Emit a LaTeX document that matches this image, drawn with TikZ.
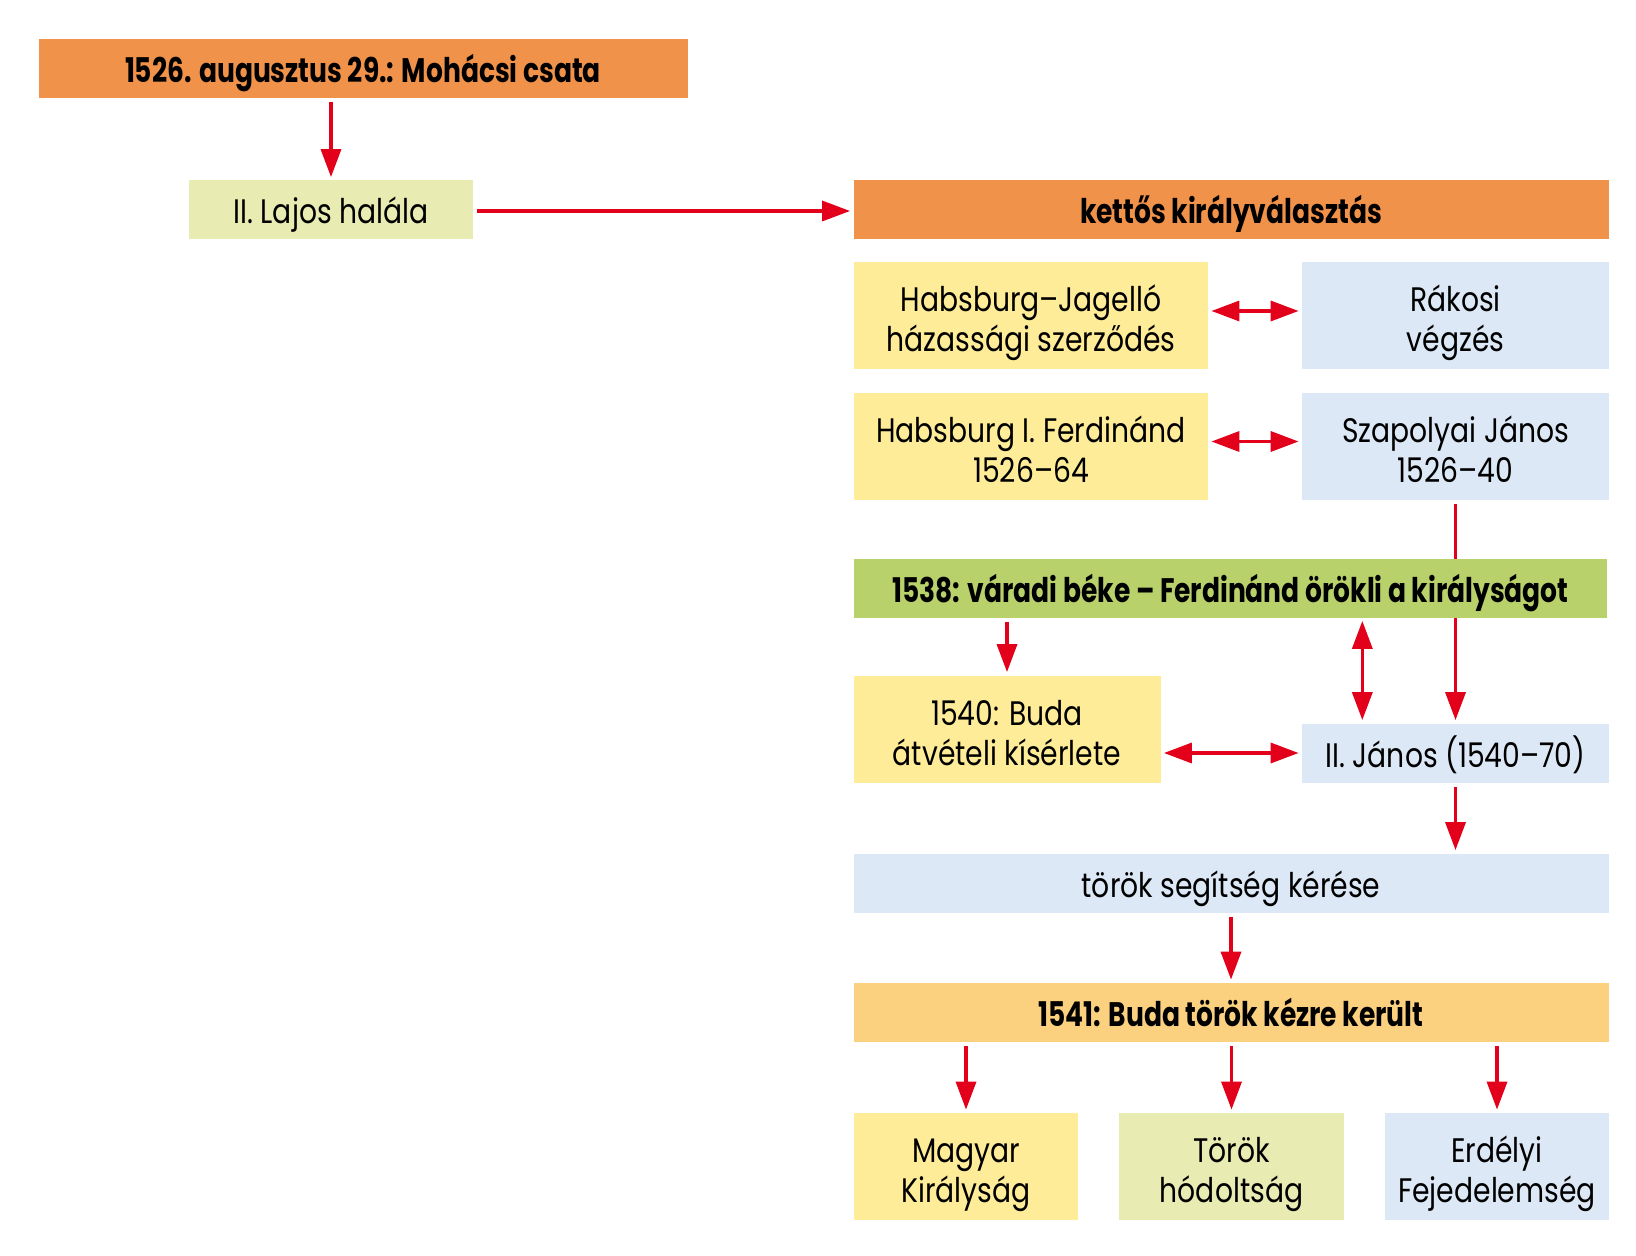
\documentclass[tikz,border=0pt]{standalone}
\usepackage{fontspec}
\setmainfont{Poppins}[FakeStretch=0.83, BoldFeatures={FakeStretch=0.78}]
\usetikzlibrary{arrows.meta,backgrounds}

\definecolor{narancs}{RGB}{240,146,73}
\definecolor{vilnarancs}{RGB}{251,209,127}
\definecolor{sarga}{RGB}{254,236,152}
\definecolor{halvzold}{RGB}{232,235,178}
\definecolor{kek}{RGB}{220,232,245}
\definecolor{zold}{RGB}{185,209,106}
\definecolor{piros}{RGB}{226,0,26}

\tikzset{
    doboz/.style={rectangle, inner sep=0pt, align=center, minimum height=29.5pt, text height=16pt, text depth=2pt, font=\fontsize{17}{20}\selectfont},
    magas/.style={minimum height=53.5pt, text height=38pt, text depth=2pt},
    fej/.style={font=\fontsize{17}{20}\selectfont\bfseries},
    nyil/.style={draw=piros, line width=1.7pt, -{Triangle[length=14pt,width=10pt]}, shorten <=2pt, shorten >=1.5pt},
    kettosnyil/.style={draw=piros, line width=1.7pt, {Triangle[length=14pt,width=10pt]}-{Triangle[length=14pt,width=10pt]}, shorten <=1.5pt, shorten >=1.5pt}
}

\begin{document}
\begin{tikzpicture}[x=0.5pt, y=-0.5pt]
    \useasboundingbox (0,0) rectangle (1636,1256);

    \node[doboz, fej, fill=narancs, minimum width=324.5pt] (mohacs) at (363,68.3) {1526. augusztus 29.: Mohácsi csata};
    \node[doboz, fill=halvzold, minimum width=142pt] (lajos) at (331,210) {II. Lajos halála};
    \node[doboz, fej, fill=narancs, minimum width=377.5pt] (kettos) at (1231,210) {kettős királyválasztás};

    \node[doboz, magas, fill=sarga, minimum width=177pt] (hjagello) at (1031,316) {Habsburg–Jagelló\\házassági szerződés};
    \node[doboz, magas, fill=kek, minimum width=153.5pt] (rakosi) at (1455.5,316) {Rákosi\\végzés};
    \node[doboz, magas, fill=sarga, minimum width=177pt] (ferdinand) at (1031,446.5) {Habsburg I. Ferdinánd\\1526–64};
    \node[doboz, magas, fill=kek, minimum width=153.5pt] (szapolyai) at (1455.5,446.5) {Szapolyai János\\1526–40};

    \node[doboz, fej, fill=zold, minimum width=376.5pt] (varad) at (1230.5,588) {1538: váradi béke – Ferdinánd örökli a királyságot};
    \node[doboz, magas, fill=sarga, minimum width=153.5pt] (buda) at (1007,729) {1540: Buda\\átvételi kísérlete};
    \node[doboz, fill=kek, minimum width=153.5pt] (janos) at (1455.5,753) {II. János (1540–70)};

    \node[doboz, fill=kek, minimum width=377.5pt] (segitseg) at (1231,883) {török segítség kérése};
    \node[doboz, fej, fill=vilnarancs, minimum width=377.5pt] (budaelf) at (1231,1012.5) {1541: Buda török kézre került};

    \node[doboz, magas, fill=sarga, minimum width=112.25pt] (magyar) at (966,1166.5) {Magyar\\Királyság};
    \node[doboz, magas, fill=halvzold, minimum width=112.25pt] (hodoltsag) at (1231.5,1166.5) {Török\\hódoltság};
    \node[doboz, magas, fill=kek, minimum width=112.25pt] (erdely) at (1497,1166.5) {Erdélyi\\Fejedelemség};

    \draw[nyil] (lajos.north |- mohacs.south) -- (lajos.north);
    \draw[nyil] ([yshift=-0.5pt]lajos.east) -- ([yshift=-0.5pt]kettos.west);
    \draw[kettosnyil] ([yshift=2.5pt]hjagello.east) -- ([yshift=2.5pt]rakosi.west);
    \draw[kettosnyil] ([yshift=2.5pt]ferdinand.east) -- ([yshift=2.5pt]szapolyai.west);
    \begin{pgfonlayer}{background}
        \draw[nyil] (szapolyai.south) -- (janos.north);
    \end{pgfonlayer}
    \draw[nyil] (buda.north |- varad.south) -- (buda.north);
    \draw[kettosnyil] ([xshift=30.35pt]janos.north west |- varad.south) -- ([xshift=30.35pt]janos.north west);
    \draw[kettosnyil] (buda.east |- janos.west) -- (janos.west);
    \draw[nyil] (janos.south) -- (janos.south |- segitseg.north);
    \draw[nyil] (segitseg.south) -- (budaelf.north);
    \draw[nyil] (magyar.north |- budaelf.south) -- (magyar.north);
    \draw[nyil] (hodoltsag.north |- budaelf.south) -- (hodoltsag.north);
    \draw[nyil] (erdely.north |- budaelf.south) -- (erdely.north);
\end{tikzpicture}
\end{document}
